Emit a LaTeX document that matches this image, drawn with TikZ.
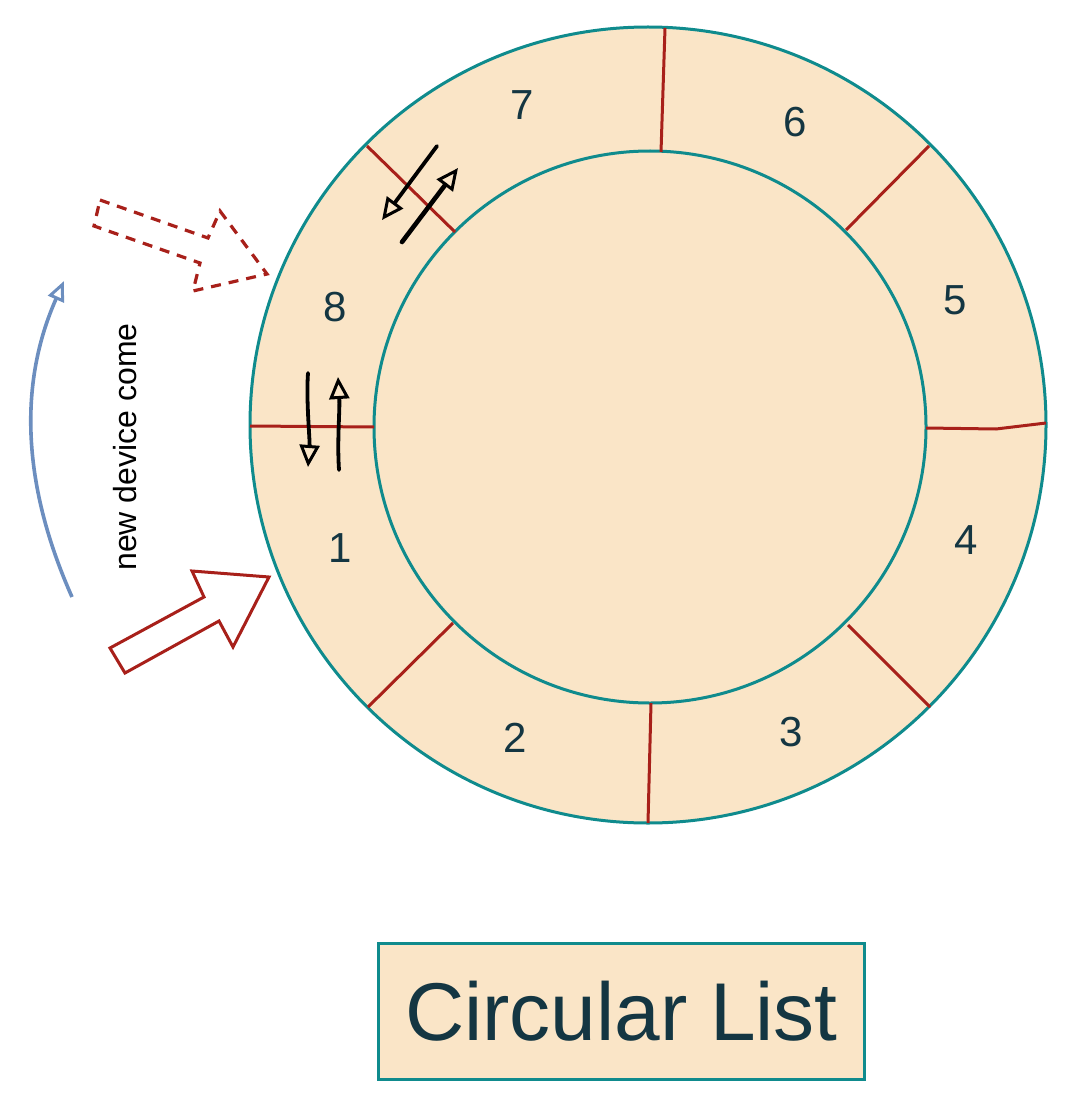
\documentclass[tikz,border=0pt]{standalone}
\usepackage{fontspec}
\setmainfont{Liberation Sans}
\usetikzlibrary{arrows.meta}
\definecolor{peach}{HTML}{FAE5C7}
\definecolor{teal2}{HTML}{0F8B8D}
\definecolor{redd}{HTML}{A8201A}
\definecolor{ink}{HTML}{143642}
\definecolor{blu}{HTML}{6C8EBF}
\tikzset{
  ring/.style={draw=teal2, fill=peach, line width=3pt},
  divider/.style={draw=redd, line width=3pt},
  num/.style={text=ink, font=\fontsize{42}{48}\selectfont, inner sep=0pt},
  sketcharrow/.style={draw=black, line width=3.8pt, line cap=round,
     -{Triangle[open, length=22pt, width=20pt, line width=3pt]}},
  bigarrow/.style={draw=redd, line width=3pt, line join=miter, fill=white},
}
\begin{document}
\begin{tikzpicture}[x=1pt, y=-1pt]
\useasboundingbox (0,0) rectangle (1080,1107);
% rings
\draw[ring] (648,425) circle (398);
\draw[ring] (650,427) circle (276);
% dividers
\draw[divider] (661,152) -- (665,28);
\draw[divider] (846,230) -- (929,146);
\draw[divider] (926,428) -- (996,429) -- (1046,423);
\draw[divider] (848,625) -- (930,707);
\draw[divider] (651,703) -- (648,823);
\draw[divider] (453,623) -- (368,707);
\draw[divider] (250,426) -- (374,427);
\draw[divider] (367,146) -- (455,232);
% labels
\node[num] (n7) at (522,105) {7};
\node[num] (n6) at (795,122) {6};
\node[num] (n5) at (955,300) {5};
\node[num] (n4) at (966,540) {4};
\node[num] (n3) at (791,732) {3};
\node[num] (n2) at (515,738) {2};
\node[num] (n1) at (340,548) {1};
\node[num] (n8) at (335,307) {8};
% sketch arrows
\coordinate (a1s) at (437,146); \coordinate (a1e) at (382,220);
\coordinate (a2s) at (402,242); \coordinate (a2e) at (458,168);
\coordinate (a3s) at (308,373); \coordinate (a3e) at (308,467);
\coordinate (a4s) at (339,470); \coordinate (a4e) at (338,377);
\draw[sketcharrow] (a1s) -- (a1e);
\draw[sketcharrow, line width=4.6pt] (a2s) -- (a2e);
\draw[sketcharrow] (a3s) .. controls (306,400) and (310,440) .. (a3e);
\draw[sketcharrow] (a4s) .. controls (337,440) and (340,410) .. (a4e);
% red hollow arrow
\draw[bigarrow] (110,648) -- (204,597) -- (192,571) -- (269,577) -- (233,647) -- (219,621) -- (125,673) -- cycle;
% dashed arrow
\draw[draw=redd, line width=3.2pt, dash pattern=on 10pt off 8pt] (100,200) -- (208,238) -- (220,211) -- (267,274) -- (193,291) -- (200,263) -- (94,226) -- cycle;
% blue arrow
\coordinate (bs) at (72,597); \coordinate (be) at (64,281);
\draw[draw=blu, line width=3.6pt, -{Triangle[open, length=20pt, width=17pt, line width=3pt]}] (bs) .. controls (20,480) and (20,380) .. (be);
\node[rotate=90, text=black, font=\fontsize{32}{38}\selectfont] (newdev) at (125,447) {new device come};
% title
\node[draw=teal2, fill=peach, line width=3pt, minimum width=486, minimum height=136, text=ink, font=\fontsize{82}{90}\selectfont] (title) at (621.5,1011) {Circular List};
\end{tikzpicture}
\end{document}
